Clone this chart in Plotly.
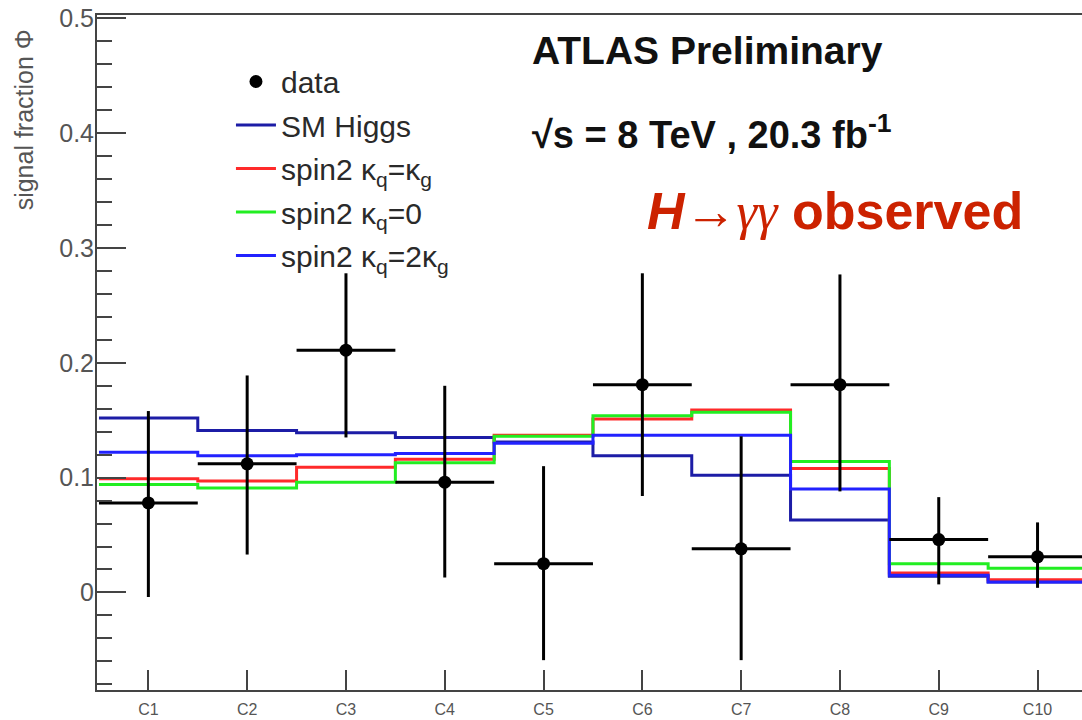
import plotly.graph_objects as go

categories = ["C1", "C2", "C3", "C4", "C5", "C6", "C7", "C8", "C9", "C10"]

data_y = [0.078, 0.112, 0.211, 0.096, 0.025, 0.181, 0.038, 0.181, 0.046, 0.031]
data_err_up = [0.080, 0.077, 0.067, 0.084, 0.085, 0.097, 0.098, 0.096, 0.037, 0.030]
data_err_down = [0.082, 0.079, 0.076, 0.083, 0.084, 0.097, 0.097, 0.093, 0.039, 0.027]

sm_higgs = [0.152, 0.141, 0.139, 0.135, 0.131, 0.119, 0.102, 0.063, 0.014, 0.009]
spin2_kq_eq_kg = [0.099, 0.097, 0.109, 0.116, 0.137, 0.151, 0.159, 0.108, 0.017, 0.011]
spin2_kq_0 = [0.094, 0.091, 0.096, 0.113, 0.136, 0.154, 0.157, 0.114, 0.025, 0.021]
spin2_kq_2kg = [0.122, 0.119, 0.120, 0.121, 0.130, 0.137, 0.137, 0.090, 0.015, 0.009]

n = len(categories)
edges = list(range(n + 1))
centers = [i + 0.5 for i in range(n)]

FONT = "Liberation Sans, Arial, Helvetica, sans-serif"

fig = go.Figure()

def step(vals, name, color, rank):
    fig.add_trace(go.Scatter(
        x=edges, y=list(vals) + [vals[-1]], mode="lines", line_shape="hv",
        line=dict(color=color, width=3), name=name, legendrank=rank,
        legendgroup=name,
    ))

step(sm_higgs, "SM Higgs", "#1c1ca6", 2)
step(spin2_kq_eq_kg, "spin2 κ<sub>q</sub>=κ<sub>g</sub>", "#ff2a2a", 3)
step(spin2_kq_0, "spin2 κ<sub>q</sub>=0", "#22ee22", 4)
step(spin2_kq_2kg, "spin2 κ<sub>q</sub>=2κ<sub>g</sub>", "#2222ff", 5)

fig.add_trace(go.Scatter(
    x=centers, y=data_y, mode="markers", name="data", legendrank=1,
    legendgroup="data",
    marker=dict(color="black", size=13),
    error_y=dict(type="data", symmetric=False, array=data_err_up,
                 arrayminus=data_err_down, color="black", thickness=3, width=0),
    error_x=dict(type="constant", value=0.5, color="black", thickness=3, width=0),
))

fig.update_layout(
    width=1082, height=720,
    margin=dict(l=97, r=0, t=15, b=30),
    paper_bgcolor="white", plot_bgcolor="white",
    font=dict(family=FONT, color="#222"),
    showlegend=True,
    legend=dict(
        x=0.136, y=0.940, xanchor="left", yanchor="top",
        bgcolor="rgba(0,0,0,0)", font=dict(size=30, color="#2a2a2a"),
        traceorder="grouped", tracegroupgap=1.5, itemwidth=40,
    ),
    xaxis=dict(
        range=[-0.02, 9.95], showgrid=False, zeroline=False,
        showline=True, linecolor="#444", linewidth=2, mirror=True,
        tickvals=centers, ticktext=categories, ticks="inside", ticklen=20,
        tickcolor="#444", tickwidth=2,
        tickfont=dict(size=16, color="#555"), ticklabelstandoff=4,
    ),
    yaxis=dict(
        range=[-0.085, 0.503], showgrid=False, zeroline=False,
        showline=True, linecolor="#444", linewidth=2,
        dtick=0.1, tick0=0, ticks="inside", ticklen=29, tickcolor="#444", tickwidth=2,
        tickfont=dict(size=25, color="#555"), ticklabelstandoff=-4,
        minor=dict(dtick=0.02, ticks="inside", ticklen=15, tickcolor="#444", tickwidth=2),
    ),
    annotations=[
        dict(text="signal fraction Φ", xref="paper", yref="paper",
             x=-0.0741, y=0.981, xanchor="center", yanchor="top", textangle=-90,
             showarrow=False, font=dict(size=25, color="#555")),
        dict(text="<b>ATLAS Preliminary</b>", xref="paper", yref="paper",
             x=0.4396, y=0.948, xanchor="left", yanchor="middle",
             showarrow=False, font=dict(size=39, color="#111")),
        dict(text="<b>√s = 8 TeV , 20.3 fb<sup>-1</sup></b>", xref="paper", yref="paper",
             x=0.4396, y=0.827, xanchor="left", yanchor="middle",
             showarrow=False, font=dict(size=38, color="#111")),
        dict(text="<b><i>H</i>→</b><span style='font-family:Liberation Serif, serif'><i>γγ</i></span><b> observed</b>",
             xref="paper", yref="paper",
             x=0.5563, y=0.71, xanchor="left", yanchor="middle",
             showarrow=False, font=dict(size=52, color="#cc2200")),
    ],
)

fig.write_html("out.html")
